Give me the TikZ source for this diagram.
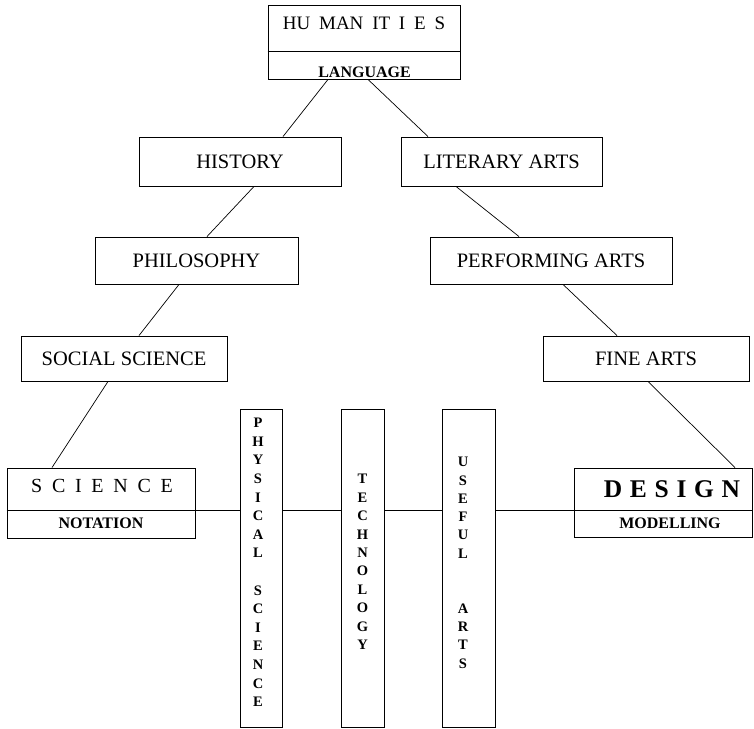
\documentclass[tikz,border=0pt]{standalone}
\usepackage{fontspec}
\setmainfont{Liberation Serif}
\tikzset{
  box/.style={draw, line width=0.9pt, inner sep=0pt, font=\fontsize{20.5}{24}\selectfont},
  tbox/.style={draw, line width=0.9pt, inner sep=0pt},
  conn/.style={line width=0.7pt},
  vlet/.style={inner sep=0pt, font=\fontsize{14.5}{16}\selectfont\bfseries},
  sub/.style={inner sep=0pt, anchor=base, font=\fontsize{16}{18}\selectfont\bfseries},
}
\begin{document}
\begin{tikzpicture}[x=1pt,y=-1pt]
\useasboundingbox (0,0) rectangle (754,728);
% top box
\node[tbox, minimum width=192pt, minimum height=74pt] (hum) at (364,42) {};
\coordinate (hd) at (0,51);
\draw[line width=0.9pt] (hum.west |- hd) -- (hum.east |- hd);
\node[inner sep=0pt, anchor=base, font=\fontsize{19}{22}\selectfont] (humt) at (364,29) {HU\hspace{8.8pt}MAN\hspace{8.8pt}IT\hspace{8.8pt}I\hspace{8.8pt}E\hspace{8.8pt}S};
\node[sub] (lang) at (364.5,77) {LANGUAGE};
% level boxes
\node[box, minimum width=202pt, minimum height=49pt] (hist) at (240,161.5) {HISTORY};
\node[box, minimum width=201pt, minimum height=49pt] (lit) at (501.5,161.5) {LITERARY ARTS};
\node[box, minimum width=203pt, minimum height=47pt] (phil) at (196.5,260.5) {PHILOSOPHY};
\node[box, minimum width=242pt, minimum height=47pt] (perf) at (551,260.5) {PERFORMING ARTS};
\node[box, minimum width=206pt, minimum height=45pt] (soc) at (124,358.5) {SOCIAL SCIENCE};
\node[box, minimum width=206pt, minimum height=45pt] (fine) at (646,358.5) {FINE ARTS};
% bottom two-part boxes
\coordinate (hl) at (0,510);
\node[tbox, minimum width=188pt, minimum height=70pt] (sci) at (101,503) {};
\draw[line width=0.9pt] (sci.west |- hl) -- (sci.east |- hl);
\node[inner sep=0pt, anchor=base, font=\fontsize{20}{24}\selectfont] (scit) at (102,492) {S\hspace{9.7pt}C\hspace{9.7pt}I\hspace{9.7pt}E\hspace{9.7pt}N\hspace{9.7pt}C\hspace{9.7pt}E};
\node[sub] (nota) at (101,528) {NOTATION};
\node[tbox, minimum width=178pt, minimum height=69pt] (des) at (663,502.5) {};
\draw[line width=0.9pt] (des.west |- hl) -- (des.east |- hl);
\node[inner sep=0pt, anchor=base, font=\fontsize{25.5}{28}\selectfont\bfseries] (dest) at (672,497) {D\hspace{7.7pt}E\hspace{7.7pt}S\hspace{7.7pt}I\hspace{7.7pt}G\hspace{7.7pt}N};
\node[sub] (model) at (670,528) {MODELLING};
% vertical boxes
\node[tbox, minimum width=42pt, minimum height=318pt] (phys) at (261,568) {};
\node[tbox, minimum width=43pt, minimum height=318pt] (tech) at (362.5,568) {};
\node[tbox, minimum width=53pt, minimum height=318pt] (use) at (468.5,568) {};
\foreach \i/\l in {0/P,1/H,2/Y,3/S,4/I,5/C,6/A,7/L,9/S,10/C,11/I,12/E,13/N,14/C,15/E}
  \node[vlet] (ps\i) at (258,{423+\i*18.6}) {\l};
\foreach \i/\l in {0/T,1/E,2/C,3/H,4/N,5/O,6/L,7/O,8/G,9/Y}
  \node[vlet] (te\i) at (362.5,{479+\i*18.45}) {\l};
\foreach \i/\l in {0/U,1/S,2/E,3/F,4/U,5/L,8/A,9/R,10/T,11/S}
  \node[vlet] (ua\i) at (463,{462+\i*18.3}) {\l};
% diagonal connectors
\draw[conn] ([xshift=-36pt]hum.south) -- ([xshift=43pt]hist.north);
\draw[conn] ([xshift=4pt]hum.south) -- ([xshift=-73.5pt]lit.north);
\draw[conn] ([xshift=14pt]hist.south) -- ([xshift=10.5pt]phil.north);
\draw[conn] ([xshift=-45.5pt]lit.south) -- ([xshift=-32pt]perf.north);
\draw[conn] ([xshift=-17.5pt]phil.south) -- ([xshift=15pt]soc.north);
\draw[conn] ([xshift=12pt]perf.south) -- ([xshift=-29pt]fine.north);
\draw[conn] ([xshift=-16pt]soc.south) -- ([xshift=-49pt]sci.north);
\draw[conn] ([xshift=2pt]fine.south) -- ([xshift=72pt]des.north);
% horizontal connectors
\draw[conn] (sci.east |- hl) -- (phys.west |- hl);
\draw[conn] (phys.east |- hl) -- (tech.west |- hl);
\draw[conn] (tech.east |- hl) -- (use.west |- hl);
\draw[conn] (use.east |- hl) -- (des.west |- hl);
\end{tikzpicture}
\end{document}
